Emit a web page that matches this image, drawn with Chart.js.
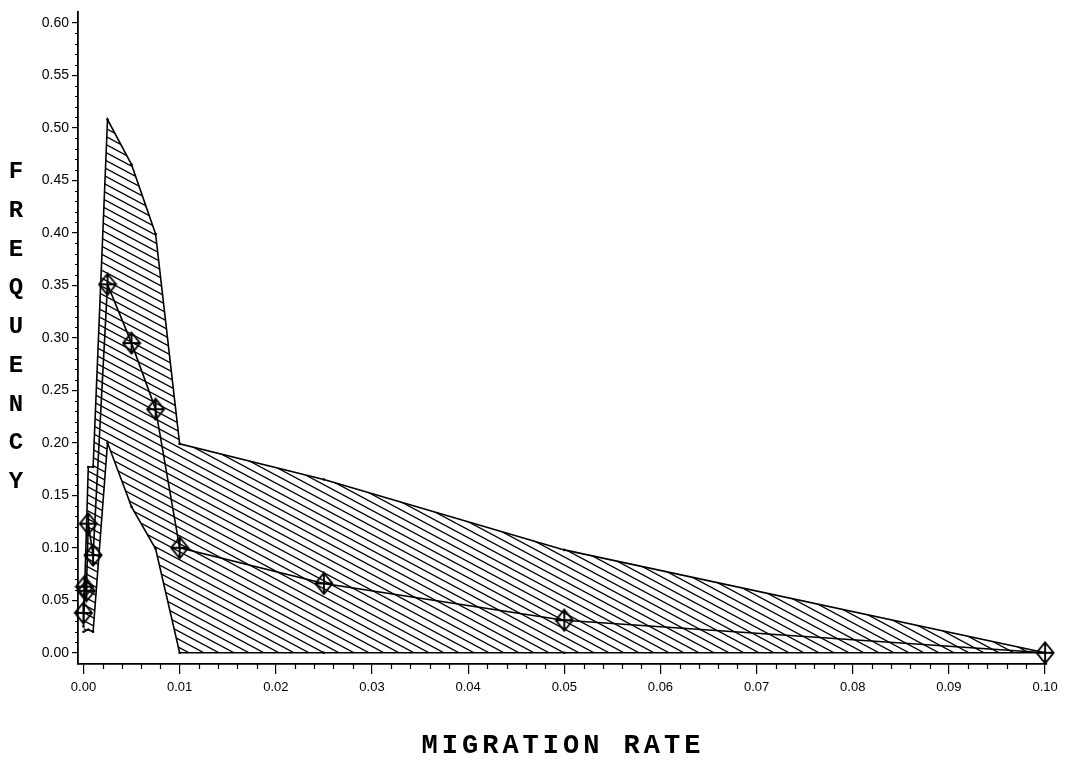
<!DOCTYPE html>
<html>
<head>
<meta charset="utf-8">
<script src="https://cdn.jsdelivr.net/npm/chart.js@4"></script>
<style>
  html, body { margin: 0; padding: 0; background: #fff; }
</style>
</head>
<body>
<canvas id="freqChart" width="1069" height="763"></canvas>
<script>
// migration rates where the range band was measured
const bandX = [0, 0.0005, 0.001, 0.0025, 0.005, 0.0075, 0.01, 0.025, 0.05, 0.1];
const bandUpper = [0.025, 0.177, 0.177, 0.508, 0.465, 0.399, 0.199, 0.165, 0.098, 0.0];
const bandLower = [0.02, 0.022, 0.02, 0.200, 0.139, 0.099, 0.0, 0.0, 0.0, 0.0];

// mean frequency (diamonds)
const meanX = [0, 0.0001, 0.0003, 0.0005, 0.001, 0.0025, 0.005, 0.0075, 0.01, 0.025, 0.05, 0.1];
const meanY = [0.038, 0.063, 0.059, 0.123, 0.093, 0.351, 0.295, 0.232, 0.100, 0.066, 0.031, 0.0];

const xTicks = [0, 0.01, 0.02, 0.03, 0.04, 0.05, 0.06, 0.07, 0.08, 0.09, 0.10];
const yTicks = [0, 0.05, 0.10, 0.15, 0.20, 0.25, 0.30, 0.35, 0.40, 0.45, 0.50, 0.55, 0.60];

const yTitle = "FREQUENCY";
const xTitle = "MIGRATION RATE";

function toPoints(xs, ys) {
  return xs.map((x, i) => ({ x: x, y: ys[i] }));
}

// diagonal hatch tile
const tile = document.createElement("canvas");
tile.width = 15;
tile.height = 8;
const tc = tile.getContext("2d");
tc.strokeStyle = "#000";
tc.lineWidth = 1.3;
tc.beginPath();
for (let n = -1; n <= 1; n++) {
  tc.moveTo(-15, -8 + n * 8);
  tc.lineTo(30, 16 + n * 8);
}
tc.stroke();
const hatch = tc.createPattern(tile, "repeat");

// diamond with cross marker
const mark = document.createElement("canvas");
mark.width = 20;
mark.height = 24;
const mc = mark.getContext("2d");
mc.strokeStyle = "#000";
mc.lineWidth = 1.9;
mc.beginPath();
mc.moveTo(10, 1.5);
mc.lineTo(18.5, 12);
mc.lineTo(10, 22.5);
mc.lineTo(1.5, 12);
mc.closePath();
mc.moveTo(10, 1.5);
mc.lineTo(10, 22.5);
mc.moveTo(1.5, 12);
mc.lineTo(18.5, 12);
mc.stroke();

const extras = {
  id: "extras",
  afterDraw(chart) {
    const ctx = chart.ctx;
    const xs = chart.scales.x;
    const ys = chart.scales.y;
    ctx.save();
    ctx.strokeStyle = "#000";
    ctx.lineWidth = 1.2;
    ctx.beginPath();
    for (let i = 1; i < 50; i++) {
      if (i % 5 === 0) continue;
      const px = Math.round(xs.getPixelForValue(i * 0.002)) + 0.5;
      ctx.moveTo(px, xs.top);
      ctx.lineTo(px, xs.top + 5);
    }
    for (let i = 1; i < 60; i++) {
      if (i % 5 === 0) continue;
      const py = Math.round(ys.getPixelForValue(i * 0.01)) + 0.5;
      ctx.moveTo(ys.right, py);
      ctx.lineTo(ys.right - 3, py);
    }
    ctx.stroke();

    ctx.fillStyle = "#000";
    ctx.textAlign = "center";
    ctx.textBaseline = "alphabetic";
    ctx.font = "bold 27px 'Liberation Mono', 'Courier New', monospace";
    ctx.letterSpacing = "4px";
    ctx.fillText(xTitle, 563, 753);

    ctx.letterSpacing = "0px";
    ctx.font = "bold 24px 'Liberation Mono', 'Courier New', monospace";
    for (let i = 0; i < yTitle.length; i++) {
      ctx.fillText(yTitle[i], 16, 178 + i * 38.75);
    }
    ctx.restore();
  }
};

new Chart(document.getElementById("freqChart"), {
  type: "line",
  data: {
    datasets: [
      {
        data: toPoints(meanX, meanY),
        borderColor: "#000",
        borderWidth: 1.6,
        pointStyle: mark,
        fill: false,
        clip: false,
        tension: 0,
      },
      {
        data: toPoints(bandX, bandUpper),
        borderColor: "#000",
        borderWidth: 1.6,
        backgroundColor: hatch,
        pointRadius: 1.3,
        pointBackgroundColor: "#000",
        pointBorderWidth: 0,
        fill: 2,
        tension: 0,
      },
      {
        data: toPoints(bandX, bandLower),
        borderColor: "#000",
        borderWidth: 1.6,
        pointRadius: 1.3,
        pointBackgroundColor: "#000",
        pointBorderWidth: 0,
        fill: false,
        tension: 0,
      },
    ],
  },
  options: {
    responsive: false,
    animation: false,
    devicePixelRatio: 1,
    layout: { padding: { top: 5, right: 22, bottom: 0, left: 0 } },
    plugins: {
      legend: { display: false },
      tooltip: { enabled: false },
    },
    scales: {
      x: {
        type: "linear",
        min: -0.00057,
        max: 0.1002,
        afterBuildTicks: (s) => { s.ticks = xTicks.map((v) => ({ value: v })); },
        afterFit: (s) => { s.height = 99; },
        ticks: {
          callback: (v) => Number(v).toFixed(2),
          font: { family: "'Liberation Sans', Arial", size: 13 },
          color: "#000",
          padding: 6,
          maxRotation: 0,
          autoSkip: false,
        },
        grid: { drawOnChartArea: false, tickLength: 10, color: "#000", lineWidth: 1.2 },
        border: { display: true, color: "#000", width: 1.8 },
      },
      y: {
        type: "linear",
        min: -0.0107,
        max: 0.611,
        afterBuildTicks: (s) => { s.ticks = yTicks.map((v) => ({ value: v })); },
        afterFit: (s) => { s.width = 78; },
        ticks: {
          callback: (v) => Number(v).toFixed(2),
          font: { family: "'Liberation Sans', Arial", size: 14 },
          color: "#000",
          padding: 3,
          autoSkip: false,
        },
        grid: { drawOnChartArea: false, tickLength: 6, color: "#000", lineWidth: 1.2 },
        border: { display: true, color: "#000", width: 1.8 },
      },
    },
  },
  plugins: [extras],
});
</script>
</body>
</html>
